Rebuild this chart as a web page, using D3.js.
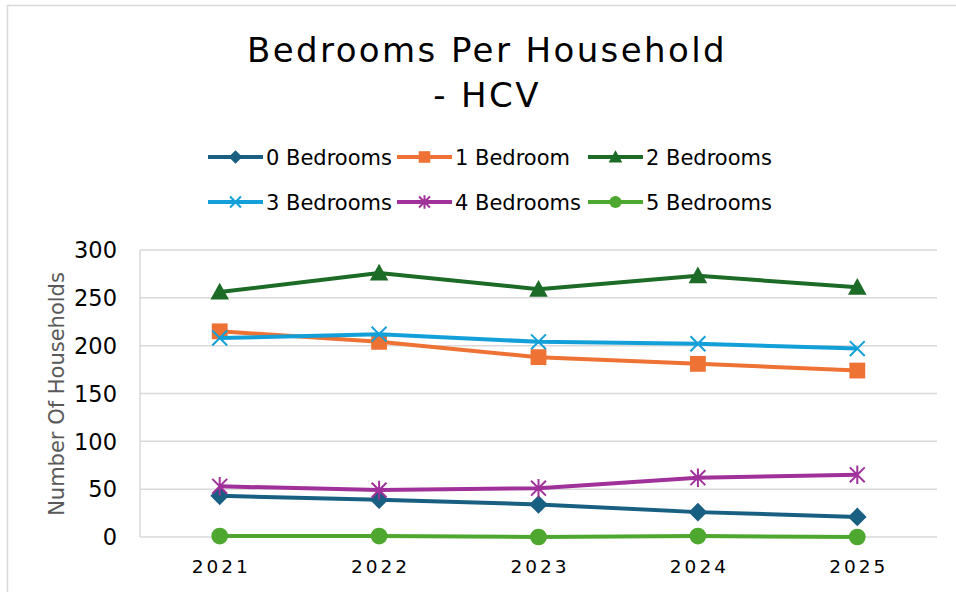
<!DOCTYPE html>
<html>
<head>
<meta charset="utf-8">
<script src="https://d3js.org/d3.v7.min.js"></script>
<style>
  body { margin: 0; background: #fff; }
  text { font-family: "DejaVu Sans", Verdana, sans-serif; }
</style>
</head>
<body>
<svg id="chart" width="956" height="592"></svg>
<script>
// data
const years = ['2021', '2022', '2023', '2024', '2025'];
const seriesNames = ['0 Bedrooms', '1 Bedroom', '2 Bedrooms', '3 Bedrooms', '4 Bedrooms', '5 Bedrooms'];
const bed0 = [43, 39, 34, 26, 21];
const bed1 = [215, 204, 188, 181, 174];
const bed2 = [256, 276, 259, 273, 261];
const bed3 = [208, 212, 204, 202, 197];
const bed4 = [53, 49, 51, 62, 65];
const bed5 = [1, 1, 0, 1, 0];
const yTicks = [0, 50, 100, 150, 200, 250, 300];

const colors = ['#185f82', '#ed7234', '#1c6b26', '#13a0d8', '#a0309a', '#4ea72e'];
const markers = ['diamond', 'square', 'triangle', 'x', 'asterisk', 'circle'];
const values = [bed0, bed1, bed2, bed3, bed4, bed5];

const series = seriesNames.map((name, i) => ({
  name: name, color: colors[i], marker: markers[i],
  points: years.map((y, j) => ({ year: y, value: values[i][j] }))
}));

const svg = d3.select('#chart');

// outer border
svg.append('rect')
  .attr('x', 7.5).attr('y', 5.5)
  .attr('width', 1000).attr('height', 1000)
  .attr('fill', 'none').attr('stroke', '#d9d9d9').attr('stroke-width', 1.5);

const plotL = 140, plotR = 937, plotT = 250, plotB = 537;

const x = d3.scaleBand().domain(years).range([plotL, plotR]);
const y = d3.scaleLinear().domain([0, 300]).range([plotB, plotT]);

// gridlines
svg.append('g').selectAll('line')
  .data(yTicks)
  .join('line')
  .attr('x1', plotL).attr('x2', plotR)
  .attr('y1', d => y(d)).attr('y2', d => y(d))
  .attr('stroke', '#d9d9d9').attr('stroke-width', 1.5);

svg.append('line')
  .attr('x1', plotL).attr('x2', plotL)
  .attr('y1', plotT).attr('y2', plotB)
  .attr('stroke', '#d9d9d9').attr('stroke-width', 1.5);

// y tick labels
svg.append('g').selectAll('text')
  .data(yTicks)
  .join('text')
  .attr('x', 117).attr('y', d => y(d))
  .attr('dy', '0.37em')
  .attr('text-anchor', 'end')
  .attr('font-size', 22.5)
  .attr('fill', '#000')
  .text(d => d);

// x tick labels
svg.append('g').selectAll('text')
  .data(years)
  .join('text')
  .attr('x', d => x(d) + x.bandwidth() / 2 + 1.5)
  .attr('y', 573)
  .attr('text-anchor', 'middle')
  .attr('font-size', 18.5)
  .attr('letter-spacing', 3)
  .attr('fill', '#000')
  .text(d => d);

// y axis title
svg.append('text')
  .attr('transform', 'translate(64,394) rotate(-90)')
  .attr('text-anchor', 'middle')
  .attr('font-size', 21)
  .attr('fill', '#595959')
  .text('Number Of Households');

// title
const title = svg.append('text')
  .attr('text-anchor', 'middle')
  .attr('font-size', 34)
  .attr('letter-spacing', 2.4)
  .attr('fill', '#000');
title.append('tspan').attr('x', 487).attr('y', 62).text('Bedrooms Per Household');
title.append('tspan').attr('x', 487).attr('y', 107).text('- HCV');

function drawMarker(g, type, color, s) {
  if (type === 'diamond') {
    g.append('path').attr('d', `M0,${-s}L${s},0L0,${s}L${-s},0Z`).attr('fill', color);
  } else if (type === 'square') {
    g.append('rect').attr('x', -s * 0.85).attr('y', -s * 0.85)
      .attr('width', s * 1.7).attr('height', s * 1.7).attr('fill', color);
  } else if (type === 'triangle') {
    g.append('path').attr('d', `M0,${-s}L${s},${s * 0.8}L${-s},${s * 0.8}Z`).attr('fill', color);
  } else if (type === 'circle') {
    g.append('circle').attr('r', s * 0.9).attr('fill', color);
  } else if (type === 'x') {
    const a = s * 0.8;
    g.append('path').attr('d', `M${-a},${-a}L${a},${a}M${-a},${a}L${a},${-a}`)
      .attr('stroke', color).attr('stroke-width', 2).attr('fill', 'none');
  } else if (type === 'asterisk') {
    const a = s * 0.8;
    g.append('path').attr('d', `M${-a},${-a}L${a},${a}M${-a},${a}L${a},${-a}M0,${-s}L0,${s}`)
      .attr('stroke', color).attr('stroke-width', 2).attr('fill', 'none');
  }
}

const line = d3.line()
  .x(d => x(d.year) + x.bandwidth() / 2)
  .y(d => y(d.value));

// series
series.forEach(s => {
  svg.append('path')
    .datum(s.points)
    .attr('d', line)
    .attr('fill', 'none')
    .attr('stroke', s.color)
    .attr('stroke-width', 4)
    .attr('stroke-linejoin', 'round');
  s.points.forEach(p => {
    const g = svg.append('g')
      .attr('transform', `translate(${x(p.year) + x.bandwidth() / 2},${y(p.value)})`);
    drawMarker(g, s.marker, s.color, 9.3);
  });
});

// legend
const legendPos = [[208, 157], [397, 157], [588, 157], [208, 202], [397, 202], [588, 202]];
series.forEach((s, i) => {
  const g = svg.append('g').attr('transform', `translate(${legendPos[i][0]},${legendPos[i][1]})`);
  g.append('line').attr('x1', 0).attr('x2', 55).attr('y1', 0).attr('y2', 0)
    .attr('stroke', s.color).attr('stroke-width', 4);
  drawMarker(g.append('g').attr('transform', 'translate(27.5,0)'), s.marker, s.color, 6.8);
  g.append('text').attr('x', 58).attr('y', 0).attr('dy', '0.37em')
    .attr('font-size', 21).attr('fill', '#000').text(s.name);
});
</script>
</body>
</html>
